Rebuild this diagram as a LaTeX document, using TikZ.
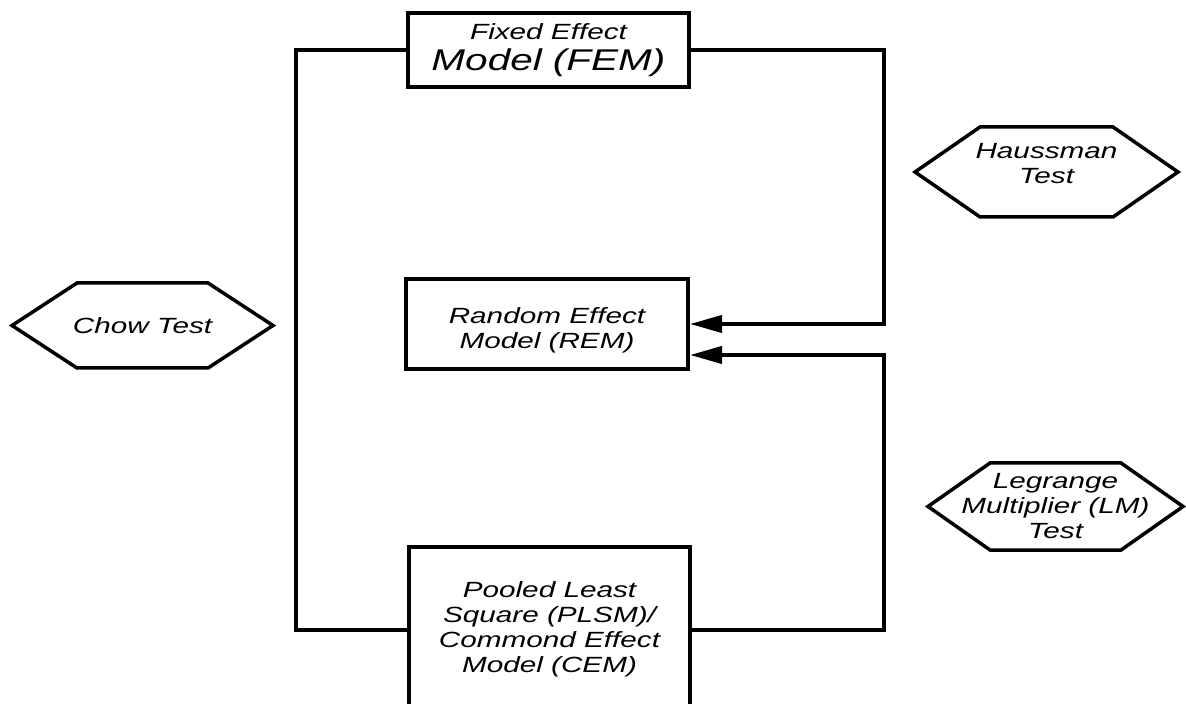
\documentclass[tikz,border=0pt]{standalone}
\usepackage{fontspec}
\setmainfont{Liberation Sans}[FakeStretch=1.35]
\usetikzlibrary{arrows.meta,calc}
\newcommand\hexoutline[2]{%
  \draw[hexline] (#1.west) -- ($(#1.north west)+(#2,0)$) -- ($(#1.north east)+(-#2,0)$)
    -- (#1.east) -- ($(#1.south east)+(-#2,0)$) -- ($(#1.south west)+(#2,0)$) -- cycle;}
\begin{document}
\begin{tikzpicture}[x=0.5pt,y=-0.5pt,
  model/.style={draw, line width=2pt, align=center, inner sep=0pt,
    font=\itshape\fontsize{11}{12.5}\selectfont},
  testnode/.style={outer sep=0pt, inner sep=0pt, align=center,
    font=\itshape\fontsize{11}{12.5}\selectfont},
  hexline/.style={line width=1.75pt, line join=miter},
  conn/.style={line width=2pt, line join=miter},
  arr/.style={conn, -{Triangle[length=16pt,width=8.5pt]}}]
\useasboundingbox (0,0) rectangle (1186,704);
\fill[white] (0,0) rectangle (1186,704);
\clip (0,0) rectangle (1186,704);

% model boxes
\node[model, minimum width=140.5pt, minimum height=37pt] (fem) at (548.5,50)
  {\fontsize{11}{13}\selectfont Fixed Effect\\[3pt] \fontsize{15}{16}\selectfont Model (FEM)};
\node[model, minimum width=141pt, minimum height=45pt] (rem) at (547,324)
  {\rule{0pt}{14pt}Random Effect\\Model  (REM)};
\node[model, minimum width=140.5pt, minimum height=82.5pt] (plsm) at (549.5,629.5)
  {Pooled Least\\Square  (PLSM)/\\Commond Effect\\Model  (CEM)};

% test hexagons
\node[testnode, minimum width=130.5pt, minimum height=42.5pt] (chow) at (142.5,325.5) {Chow Test};
\hexoutline{chow}{65}
\node[testnode, minimum width=131.5pt, minimum height=45pt] (haus) at (1046.5,172) {Haussman\\Test\rule[-9pt]{0pt}{9pt}};
\hexoutline{haus}{65}
\node[testnode, minimum width=127.5pt, minimum height=43.5pt] (lm) at (1055.5,506.5) {Legrange\\Multiplier (LM)\\Test};
\hexoutline{lm}{62}

% connectors
\coordinate (lx) at (296,0);
\draw[conn] (fem.west) -| (lx |- plsm.west) -- (plsm.west);
\draw[arr] (fem.east) -| ($(rem.east)+(194,0)$) -- (rem.east);
\draw[arr] (plsm.east) -| ($(rem.east)+(194,31)$) -- ($(rem.east)+(0,31)$);
\end{tikzpicture}
\end{document}
